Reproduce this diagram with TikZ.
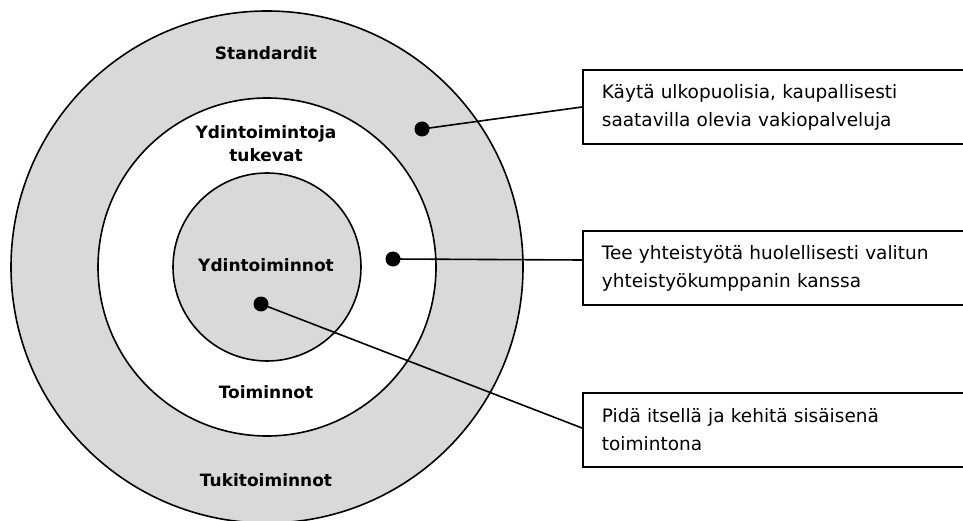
\documentclass[tikz,border=0pt]{standalone}
\usepackage{fontspec}
\setmainfont{DejaVu Sans}
\definecolor{ringgray}{HTML}{D9D9D9}
\begin{document}
\begin{tikzpicture}[x=1pt,y=-1pt,
  ring/.style={draw=black,line width=1.6pt},
  lbl/.style={font=\bfseries\fontsize{17}{23}\selectfont,align=center,inner sep=0pt},
  callout/.style={draw=black,line width=1.8pt,anchor=north west,minimum width=390pt,minimum height=74pt,
    text width=360pt,align=left,inner xsep=19pt,inner ysep=0pt,font=\fontsize{18.5}{28}\selectfont},
  dotc/.style={circle,fill=black,inner sep=0pt,minimum size=15pt},
  conn/.style={draw=black,line width=1.6pt}]
\useasboundingbox (0,0) rectangle (963,521);
\clip (0,0) rectangle (963,521);
\fill[white] (0,0) rectangle (963,521);
\coordinate (c) at (267,267);
\draw[ring,fill=ringgray] (c) circle[radius=256];
\draw[ring,fill=white] (c) circle[radius=169];
\draw[ring,fill=ringgray] (c) circle[radius=94];
\node[lbl] (std) at (266,53) {Standardit};
\node[lbl] (ytu) at (266,144) {Ydintoimintoja\\tukevat};
\node[lbl] (ydt) at (266,265) {Ydintoiminnot};
\node[lbl] (toi) at (266,392) {Toiminnot};
\node[lbl] (tuk) at (266,480) {Tukitoiminnot};
\node[callout] (b1) at (582,69) {Käytä ulkopuolisia, kaupallisesti\\saatavilla olevia vakiopalveluja};
\node[callout] (b2) at (582,230) {Tee yhteistyötä huolellisesti valitun\\yhteistyökumppanin kanssa};
\node[callout] (b3) at (582,392) {Pidä itsellä ja kehitä sisäisenä\\toimintona};
\node[dotc] (d1) at (422,129) {};
\node[dotc] (d2) at (393,259) {};
\node[dotc] (d3) at (261,304) {};
\coordinate (e1) at (582,107);
\coordinate (e2) at (582,260);
\coordinate (e3) at (582,428);
\draw[conn] (d1.center) -- (e1);
\draw[conn] (d2.center) -- (e2);
\draw[conn] (d3.center) -- (e3);
\end{tikzpicture}
\end{document}
